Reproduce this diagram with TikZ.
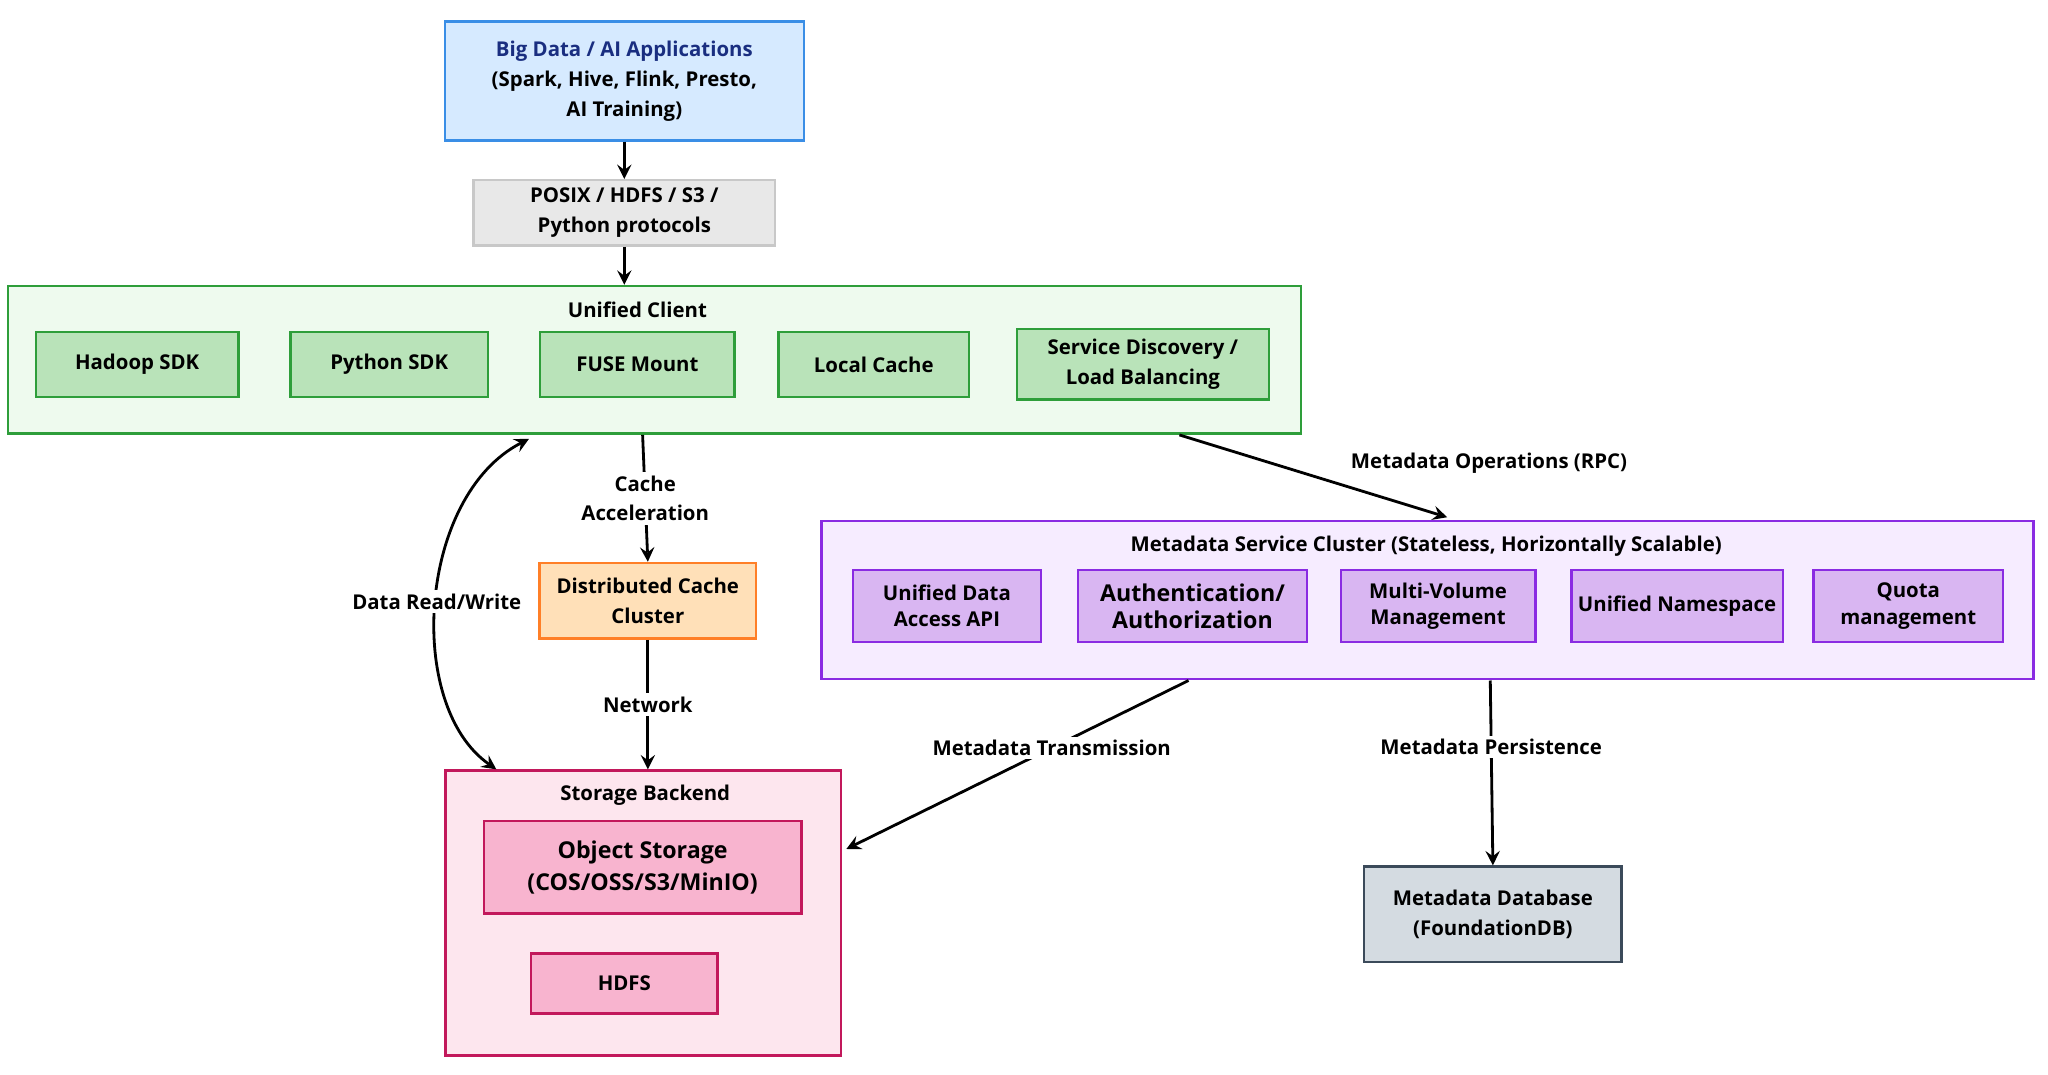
\documentclass[tikz,border=0pt]{standalone}
\usepackage{fontspec}
\setmainfont{Open Sans}
\usepackage{tikz}
\usetikzlibrary{shapes,calc,arrows,positioning,backgrounds}
\definecolor{appblue}{HTML}{3A8EE6}
\definecolor{appfill}{HTML}{D6EAFF}
\definecolor{apptext}{HTML}{1A2E80}
\definecolor{protgray}{HTML}{C8C8C8}
\definecolor{protfill}{HTML}{E8E8E8}
\definecolor{cligreen}{HTML}{2E9E3A}
\definecolor{clifill}{HTML}{EEFAEE}
\definecolor{cliin}{HTML}{B9E3B9}
\definecolor{metapurple}{HTML}{8A2BE2}
\definecolor{metafill}{HTML}{F6ECFF}
\definecolor{metain}{HTML}{D9B6F2}
\definecolor{storpink}{HTML}{C2185B}
\definecolor{storfill}{HTML}{FDE6EE}
\definecolor{storin}{HTML}{F8B4CF}
\definecolor{cacheorange}{HTML}{FF7F27}
\definecolor{cachefill}{HTML}{FFE0B8}
\definecolor{dbgray}{HTML}{3B4A5A}
\definecolor{dbfill}{HTML}{D4DBE1}
\tikzset{
  box/.style={rectangle, draw, line width=0.7pt, align=center, font=\fontsize{5.8}{7.5}\selectfont\bfseries, inner sep=1pt},
  cont/.style={rectangle, draw, line width=0.7pt},
  clibox/.style={box, draw=cligreen, fill=cliin},
  metabox/.style={box, draw=metapurple, fill=metain},
  storbox/.style={box, draw=storpink, fill=storin},
  lbl/.style={font=\fontsize{5.8}{7.5}\selectfont\bfseries, align=center, inner sep=1pt},
  conn/.style={-stealth, line width=0.8pt, black},
}
\begin{document}
\begin{tikzpicture}[x=0.01306cm, y=-0.01306cm]
    \useasboundingbox (0,0) rectangle (1568,823);

    % Containers
    \node[cont, draw=cligreen, fill=clifill, minimum width=990*0.01306cm, minimum height=113*0.01306cm] (client) at (501,275.5) {};
    \node[lbl] (clientlbl) at (488,237) {Unified Client};
    \node[cont, draw=metapurple, fill=metafill, minimum width=928*0.01306cm, minimum height=121*0.01306cm] (meta) at (1093,459.5) {};
    \node[lbl] (metalbl) at (1092,418) {Metadata Service Cluster (Stateless, Horizontally Scalable)};
    \node[cont, draw=storpink, fill=storfill, minimum width=303*0.01306cm, minimum height=218*0.01306cm] (stor) at (492.5,699) {};
    \node[lbl] (storlbl) at (494,609) {Storage Backend};

    % Top nodes
    \node[box, draw=appblue, fill=appfill, minimum width=275*0.01306cm, minimum height=91*0.01306cm] (apps) at (478,62)
      {\textcolor{apptext}{Big Data / AI Applications}\\[1pt](Spark, Hive, Flink, Presto,\\[1pt]AI Training)};
    \node[box, draw=protgray, fill=protfill, minimum width=231*0.01306cm, minimum height=50*0.01306cm] (prot) at (478,163)
      {POSIX / HDFS / S3 /\\[1pt]Python protocols};

    % Client modules
    \node[clibox, minimum width=155*0.01306cm, minimum height=50*0.01306cm] (hadoop) at (105,279) {Hadoop SDK};
    \node[clibox, minimum width=151*0.01306cm, minimum height=50*0.01306cm] (python) at (298,279) {Python SDK};
    \node[clibox, minimum width=149*0.01306cm, minimum height=50*0.01306cm] (fuse) at (488,279) {FUSE Mount};
    \node[clibox, minimum width=146*0.01306cm, minimum height=50*0.01306cm] (lcache) at (669,279) {Local Cache};
    \node[clibox, minimum width=193*0.01306cm, minimum height=54*0.01306cm] (sd) at (875,279) {Service Discovery /\\[1pt]Load Balancing};

    % Cache
    \node[box, draw=cacheorange, fill=cachefill, minimum width=166*0.01306cm, minimum height=58*0.01306cm] (dcache) at (496,460) {Distributed Cache\\[1pt]Cluster};

    % Metadata modules
    \node[metabox, minimum width=144*0.01306cm, minimum height=55*0.01306cm] (api) at (725,464) {Unified Data\\Access API};
    \node[metabox, minimum width=175*0.01306cm, minimum height=55*0.01306cm, font=\fontsize{6.6}{7.6}\selectfont\bfseries] (auth) at (913,464) {Authentication/\\Authorization};
    \node[metabox, minimum width=149*0.01306cm, minimum height=55*0.01306cm] (mvol) at (1101,464) {Multi-Volume\\Management};
    \node[metabox, minimum width=162*0.01306cm, minimum height=55*0.01306cm] (ns) at (1284,464) {Unified Namespace};
    \node[metabox, minimum width=145*0.01306cm, minimum height=55*0.01306cm] (quota) at (1461,464) {Quota\\management};

    % Storage
    \node[storbox, minimum width=243*0.01306cm, minimum height=71*0.01306cm, font=\fontsize{6.6}{9}\selectfont\bfseries] (obj) at (492,664) {Object Storage\\(COS/OSS/S3/MinIO)};
    \node[storbox, minimum width=143*0.01306cm, minimum height=46*0.01306cm] (hdfs) at (478,753) {HDFS};

    % Database
    \node[box, draw=dbgray, fill=dbfill, minimum width=197*0.01306cm, minimum height=73*0.01306cm] (db) at (1143,700) {Metadata Database\\[1pt](FoundationDB)};

    % Coordinates
    \coordinate (rwtop) at (405,336);
    \coordinate (rwbot) at (380,589);
    \coordinate (cacc) at (492,333);
    \coordinate (rpcs) at (903,333);
    \coordinate (rpce) at (1108,396);
    \coordinate (mts) at (910,521);
    \coordinate (mte) at (648,650);
    \coordinate (mps) at (1141,521);

    % Connectors
    \draw[conn] (apps) -- (prot);
    \draw[conn] (prot) -- (prot.south |- client.north);
    \draw[conn] (cacc) -- node[lbl, fill=white] {Cache\\[1pt]Acceleration} (dcache.north);
    \draw[conn] (dcache) -- node[lbl, fill=white] {Network} (dcache.south |- stor.north);
    \draw[stealth-stealth, line width=0.8pt] (rwtop) .. controls (320,380) and (310,540) .. node[lbl, fill=white, pos=0.5] {Data Read/Write} (rwbot);
    \draw[conn] (rpcs) -- (rpce);
    \node[lbl] (rpclbl) at (1140,355) {Metadata Operations (RPC)};
    \draw[conn] (mts) -- node[lbl, fill=white, pos=0.4] {Metadata Transmission} (mte);
    \draw[conn] (mps) -- node[lbl, fill=white, pos=0.36] {Metadata Persistence} (db.north);

\end{tikzpicture}
\end{document}
